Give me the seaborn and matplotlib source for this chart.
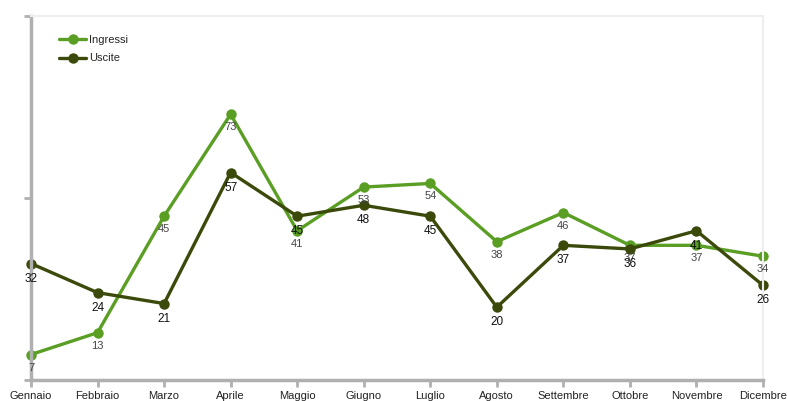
import matplotlib
matplotlib.use("Agg")
import matplotlib.pyplot as plt
import seaborn as sns
import pandas as pd

months = ["Gennaio", "Febbraio", "Marzo", "Aprile", "Maggio", "Giugno",
          "Luglio", "Agosto", "Settembre", "Ottobre", "Novembre", "Dicembre"]
ingressi = [7, 13, 45, 73, 41, 53, 54, 38, 46, 37, 37, 34]
uscite = [32, 24, 21, 57, 45, 48, 45, 20, 37, 36, 41, 26]

sns.set_theme(style="white")
plt.rcParams['font.family'] = ['Liberation Sans', 'DejaVu Sans']

df = pd.DataFrame({
    "x": list(range(len(months))) * 2,
    "value": ingressi + uscite,
    "series": ["Ingressi"] * len(months) + ["Uscite"] * len(months),
})

c_in = "#5a9e24"
c_out = "#3b4a0b"

fig = plt.figure(figsize=(7.87, 4.01), dpi=100)
ax = fig.add_axes([31/787, 1-380/401, (763-31)/787, (380-16)/401])

sns.lineplot(data=df, x="x", y="value", hue="series",
             palette={"Ingressi": c_in, "Uscite": c_out},
             marker="o", markersize=7.5, markeredgewidth=0, linewidth=2.4,
             ax=ax, clip_on=False)

for i, v in enumerate(ingressi):
    ax.annotate(str(v), (i, v), xytext=(0, -13), textcoords="offset pixels",
                ha="center", va="center", fontsize=8, color="#444444")
for i, v in enumerate(uscite):
    ax.annotate(str(v), (i, v), xytext=(0, -15), textcoords="offset pixels",
                ha="center", va="center", fontsize=8.5, color="#111111",
                fontweight="medium")

ax.set_xlim(0, 11)
ax.set_ylim(0, 100)
ax.set_xticks(range(len(months)))
ax.set_xticklabels(months, fontsize=8, color="#222222")
ax.set_yticks([0, 50, 100])
ax.set_yticklabels([])
ax.set_xlabel("")
ax.set_ylabel("")

for s in ["left", "bottom"]:
    ax.spines[s].set_color("#b0b0b0")
    ax.spines[s].set_linewidth(2.5)
for s in ["top", "right"]:
    ax.spines[s].set_color("#eeeeee")
    ax.spines[s].set_linewidth(1.5)

ax.tick_params(axis="both", which="both", direction="out", length=5,
               width=2, color="#b0b0b0", left=True, bottom=True, pad=3)

leg = ax.legend(loc="upper left", frameon=False, fontsize=8,
                bbox_to_anchor=(0.025, 0.975), handlelength=2.4,
                handletextpad=0.3, labelspacing=0.75)

fig.savefig("out.png", dpi=100)
